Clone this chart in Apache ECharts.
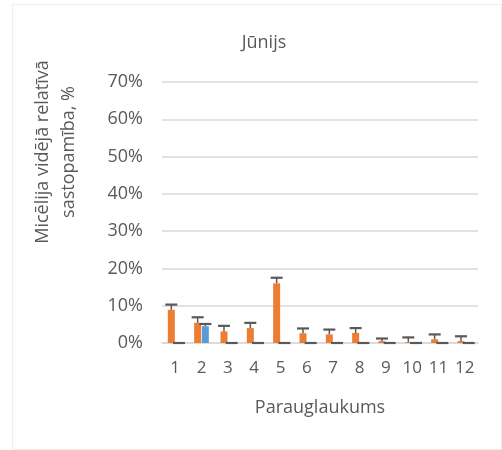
<!DOCTYPE html>
<html>
<head>
<meta charset="utf-8">
<script src="https://cdn.jsdelivr.net/npm/echarts@6/dist/echarts.min.js"></script>
<style>
html, body { margin: 0; padding: 0; background: #fff; }
#chart { width: 502px; height: 450px; }
</style>
</head>
<body>
<div id="chart"></div>
<script>
// Parauglaukumi and mean relative abundance (%)
const categories = ['1', '2', '3', '4', '5', '6', '7', '8', '9', '10', '11', '12'];
const orangeValues = [8.9, 5.4, 3.1, 4.0, 16.0, 2.6, 2.3, 2.7, 0.5, 0.2, 1.0, 0.5];
const orangeErr = [1.4, 1.5, 1.5, 1.4, 1.5, 1.3, 1.3, 1.3, 0.7, 1.3, 1.3, 1.3];
const blueValues = [0, 4.5, 0, 0, 0, 0, 0, 0, 0, 0, 0, 0];
const blueErr = [0, 0.6, 0, 0, 0, 0, 0, 0, 0, 0, 0, 0];
const yTicks = [0, 10, 20, 30, 40, 50, 60, 70];

const textColor = '#595959';
const font = 'Open Sans';
const barW = 7;

function errorSeries(values, errs, shift) {
    return {
        type: 'custom',
        z: 5,
        data: values.map((v, i) => [i, v, errs[i]]),
        renderItem: (params, api) => {
            const i = api.value(0);
            const v = api.value(1);
            const e = api.value(2);
            const base = api.coord([i, v]);
            const top = api.coord([i, v + e]);
            const x = base[0] + shift;
            return {
                type: 'group',
                children: [
                    {type: 'line', shape: {x1: x, y1: base[1], x2: x, y2: top[1]}, style: {stroke: '#595959', lineWidth: 1.5}},
                    {type: 'line', shape: {x1: x - 6, y1: top[1], x2: x + 6, y2: top[1]}, style: {stroke: '#595959', lineWidth: 2.2}}
                ]
            };
        }
    };
}

const chart = echarts.init(document.getElementById('chart'));
chart.setOption({
    animation: false,
    backgroundColor: '#fff',
    title: {
        text: 'Jūnijs',
        left: 259,
        top: 29,
        textAlign: 'center',
        textStyle: {color: textColor, fontFamily: font, fontSize: 18, fontWeight: 'normal'}
    },
    graphic: [
        {type: 'rect', shape: {x: 12.5, y: 4.5, width: 489, height: 445}, style: {fill: 'none', stroke: '#eeeeee', lineWidth: 1}, silent: true},
        {
            type: 'text', x: 43, y: 152, rotation: Math.PI / 2,
            style: {text: 'Micēlija vidējā relatīvā', fill: textColor, font: '18px "Open Sans"', align: 'center', verticalAlign: 'middle'}
        },
        {
            type: 'text', x: 69, y: 152, rotation: Math.PI / 2,
            style: {text: 'sastopamība, %', fill: textColor, font: '18px "Open Sans"', align: 'center', verticalAlign: 'middle'}
        }
    ],
    grid: {left: 162, right: 24, top: 82, bottom: 107},
    xAxis: {
        type: 'category',
        data: categories,
        name: 'Parauglaukums',
        nameLocation: 'middle',
        nameGap: 56,
        nameTextStyle: {color: textColor, fontFamily: font, fontSize: 18},
        axisLine: {lineStyle: {color: '#d9d9d9', width: 1.5}},
        axisTick: {show: false},
        axisLabel: {color: textColor, fontFamily: font, fontSize: 17, margin: 17, interval: 0}
    },
    yAxis: {
        type: 'value',
        min: yTicks[0],
        max: yTicks[yTicks.length - 1],
        interval: 10,
        axisLine: {show: false},
        axisTick: {show: false},
        splitLine: {lineStyle: {color: '#d9d9d9', width: 1.5}},
        axisLabel: {color: textColor, fontFamily: font, fontSize: 18, margin: 19, formatter: '{value}%'}
    },
    series: [
        {type: 'bar', data: orangeValues, barWidth: barW, barGap: '10%', itemStyle: {color: '#ED7D31'}},
        {type: 'bar', data: blueValues, barWidth: barW, barGap: '10%', itemStyle: {color: '#5B9BD5'}},
        errorSeries(orangeValues, orangeErr, -3.85),
        errorSeries(blueValues, blueErr, 3.85)
    ]
});
</script>
</body>
</html>
